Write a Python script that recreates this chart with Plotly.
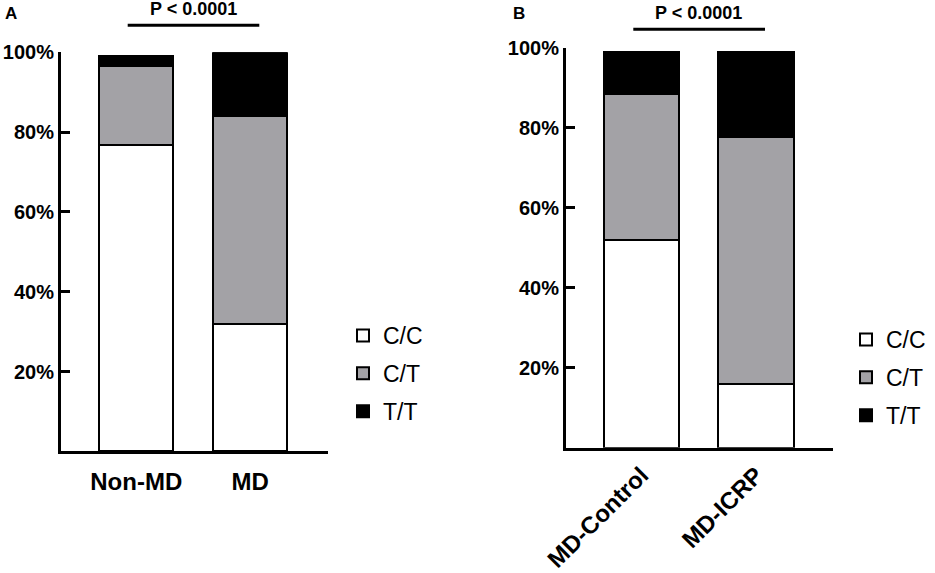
import plotly.graph_objects as go

# ---- data ----
genotypes = ["C/C", "C/T", "T/T"]
colors = ["#FFFFFF", "#A3A2A6", "#000000"]

groups_a = ["Non-MD", "MD"]
cc_a = [76.8, 31.9]
ct_a = [19.6, 52.0]
tt_a = [2.5, 16.1]

groups_b = ["MD-Control", "MD-ICRP"]
cc_b = [51.9, 15.9]
ct_b = [36.7, 61.9]
tt_b = [10.4, 21.2]

y_ticks = [20, 40, 60, 80, 100]
y_labels = ["20%", "40%", "60%", "80%", "100%"]
p_text = "P < 0.0001"

FONT = "Liberation Sans, Arial, sans-serif"
W, H = 935, 573

fig = go.Figure()

for name, col, vals in zip(genotypes, colors, [cc_a, ct_a, tt_a]):
    fig.add_trace(go.Bar(x=groups_a, y=vals, name=name, width=0.65,
                         legendgroup="a" + name,
                         marker=dict(color=col, line=dict(color="black", width=2)),
                         xaxis="x", yaxis="y", legend="legend"))
for name, col, vals in zip(genotypes, colors, [cc_b, ct_b, tt_b]):
    fig.add_trace(go.Bar(x=groups_b, y=vals, name=name, width=0.655,
                         legendgroup="b" + name,
                         marker=dict(color=col, line=dict(color="black", width=2)),
                         xaxis="x2", yaxis="y2", legend="legend2"))

def px(v):
    return v / W

def py(v):
    return 1 - v / H

axis_common = dict(showgrid=False, zeroline=False, showline=True, linecolor="black",
                   linewidth=3, automargin=False)
ytick_font = dict(size=20, weight="bold", family=FONT)
xtick_font = dict(size=24, weight="bold", family=FONT)

fig.update_layout(
    width=W, height=H, margin=dict(l=0, r=0, t=0, b=0, autoexpand=False),
    paper_bgcolor="white", plot_bgcolor="white",
    barmode="stack", bargap=0,
    font=dict(family=FONT, color="black"),
    xaxis=dict(domain=[px(61), px(327.7)], range=[-0.66, 1.679], anchor="y",
               ticks="", ticklabelstandoff=7, tickfont=xtick_font, **axis_common),
    yaxis=dict(domain=[py(451.3), py(52.3)], range=[0, 100], anchor="x",
               tickvals=y_ticks, ticktext=y_labels, ticks="inside", ticklen=9,
               tickwidth=3, tickcolor="black", ticklabelstandoff=0,
               tickfont=ytick_font, **axis_common),
    xaxis2=dict(domain=[px(566), px(833.3)], range=[-0.659, 1.675], anchor="y2",
                ticks="", tickangle=-45, ticklabelstandoff=1,
                tickfont=xtick_font, **axis_common),
    yaxis2=dict(domain=[py(447.7), py(47.7)], range=[0, 100], anchor="x2",
                tickvals=y_ticks, ticktext=y_labels, ticks="inside", ticklen=9,
                tickwidth=3, tickcolor="black", ticklabelstandoff=0,
                tickfont=ytick_font, **axis_common),
    legend=dict(x=px(343), y=py(314), xanchor="left", yanchor="top",
                traceorder="grouped", tracegroupgap=5, font=dict(size=23, family=FONT),
                bgcolor="rgba(0,0,0,0)"),
    legend2=dict(x=px(846), y=py(318), xanchor="left", yanchor="top",
                 traceorder="grouped", tracegroupgap=5, font=dict(size=23, family=FONT),
                 bgcolor="rgba(0,0,0,0)"),
    showlegend=True,
)

# panel labels
fig.add_annotation(text="<b>A</b>", x=px(11), y=py(13), xref="paper", yref="paper",
                   xanchor="center", yanchor="middle", showarrow=False,
                   font=dict(size=17, family=FONT))
fig.add_annotation(text="<b>B</b>", x=px(519), y=py(13), xref="paper", yref="paper",
                   xanchor="center", yanchor="middle", showarrow=False,
                   font=dict(size=17, family=FONT))

# significance brackets
fig.add_annotation(text="<b>" + p_text + "</b>", x=px(193), y=py(9), xref="paper", yref="paper",
                   xanchor="center", yanchor="middle", showarrow=False,
                   font=dict(size=18, family=FONT))
fig.add_shape(type="line", xref="paper", yref="paper", x0=px(127.7), x1=px(259.3),
              y0=py(25.3), y1=py(25.3), line=dict(color="black", width=3))
fig.add_annotation(text="<b>" + p_text + "</b>", x=px(698), y=py(13), xref="paper", yref="paper",
                   xanchor="center", yanchor="middle", showarrow=False,
                   font=dict(size=18, family=FONT))
fig.add_shape(type="line", xref="paper", yref="paper", x0=px(633.3), x1=px(765),
              y0=py(29.3), y1=py(29.3), line=dict(color="black", width=3))

fig.write_html("out.html", config={"displayModeBar": False},
               post_script="document.body.style.margin='0';")
